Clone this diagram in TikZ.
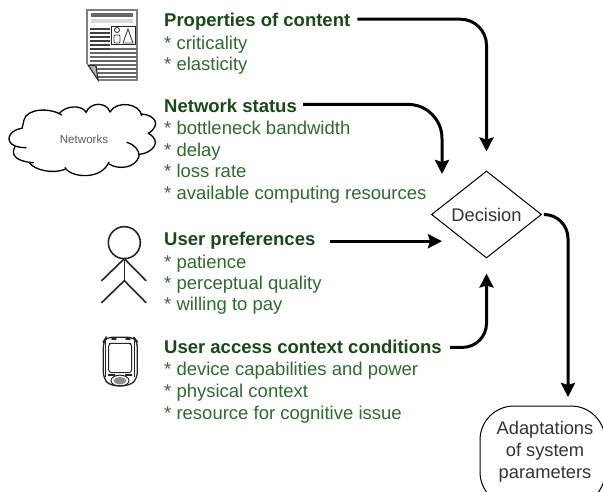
\documentclass[tikz,border=0pt]{standalone}
\usepackage{fontspec}
\setmainfont{Liberation Sans}
\usetikzlibrary{arrows.meta,shapes.geometric}
\definecolor{hd}{HTML}{174A17}
\definecolor{it}{HTML}{2F6B2F}
\definecolor{ink}{HTML}{333333}
\tikzset{
 x=1pt,y=-1pt,
 head/.style={anchor=base west,inner sep=0pt,yshift=-1pt,text=hd,font=\fontsize{18.5}{20}\selectfont\bfseries},
 item/.style={anchor=base west,inner sep=0pt,yshift=-1pt,text=it,font=\fontsize{18.5}{20}\selectfont},
 flow/.style={line width=3pt,black,-{Stealth[length=14pt,width=14pt,inset=2pt]},rounded corners=26pt},
 blk/.style={font=\fontsize{18.3}{22}\selectfont,text=ink},
 ol/.style={line width=1.3pt,black,line cap=round},
 fig/.style={line width=1.6pt,black!85,line cap=round},
}
\begin{document}
\begin{tikzpicture}
\useasboundingbox (0,0) rectangle (603,492);
\begin{scope}
\clip (0,0) rectangle (603,492);
% headings and lists
\node[head] (h1) at (164,26) {Properties of content};
\node[item] at (164,49) {* criticality};
\node[item] at (164,70) {* elasticity};
\node[head] (h2) at (164,112) {Network status};
\node[item] at (164,134) {* bottleneck bandwidth};
\node[item] at (164,156) {* delay};
\node[item] at (164,177) {* loss rate};
\node[item] at (164,199) {* available computing resources};
\node[head] (h3) at (164,245) {User preferences};
\node[item] at (164,267) {* patience};
\node[item] at (164,288) {* perceptual quality};
\node[item] at (164,309) {* willing to pay};
\node[head] (h4) at (164,352) {User access context conditions};
\node[item] at (164,374) {* device capabilities and power};
\node[item] at (164,396) {* physical context};
\node[item] at (164,418) {* resource for cognitive issue};
% decision and result
\node[diamond,draw=black,line width=1pt,minimum width=110pt,minimum height=87pt,inner sep=0pt,blk] (dec) at (486.5,214.5) {Decision};
\node[draw=black,line width=1pt,rounded corners=34pt,minimum width=125pt,minimum height=100pt,align=center,blk,inner sep=0pt] (ad) at (542.5,456) {\raisebox{0pt}[0pt][0pt]{\hspace{5pt}\parbox{120pt}{\centering\fontsize{18.3}{22}\selectfont Adaptations\\ of system\\ parameters}}};
\coordinate (netEnd) at (442,174);
\coordinate (prefEnd) at (442,241);
\coordinate (adIn) at (568,397);
% connectors
\draw[flow,shorten >=19pt] (h1.east) ++(7,-3) -| (dec.north);
\draw[flow,rounded corners=34pt] (h2.east) ++(6,-2) -| (netEnd);
\draw[flow] (h3.east) ++(14,0) coordinate (h3out) -- (h3out -| prefEnd);
\draw[flow,shorten >=15pt,rounded corners=24pt] (h4.east) ++(8,1) -| (dec.south);
\draw[flow,shorten <=4pt,rounded corners=24pt] (dec.east) -| (adIn);
% document icon
\fill[white] (87,10) -- (137,10) -- (137,80) -- (98,80) -- (87,64) -- cycle;
\draw[gray,line width=1.4pt] (87,64) -- (87,10) -- (137,10) -- (137,80) -- (98,80);
\foreach \yy in {29,33,37,41,45,49,53,57,61} \draw[black!75,line width=1.9pt] (90,\yy) -- (110,\yy);
\foreach \yy in {49,53,57,61,65,69,73,77} \draw[black!60,line width=2.4pt] (\ifnum\yy<52 110\else 90\fi,\yy) -- (137,\yy);
\fill[black!60] (91,13) rectangle (133,17);
\fill[black!15] (91,19) rectangle (133,23);
\fill[white] (111,26) rectangle (136,45);
\draw[black!85,line width=1pt] (111.5,26.5) rectangle (135.5,45);
\draw[black!75,line width=.9pt] (117,30) circle (2.5);
\draw[black!75,line width=.9pt,rounded corners=1pt] (114,35) rectangle (120,43);
\draw[black!75,line width=.9pt] (123,43) -- (128,29) -- (133,43) -- cycle;
\fill[white] (87,64) -- (98,81) -- (87,81) -- cycle;
\fill[black!30] (88,65) -- (97,66) -- (98,80) -- cycle;
\draw[black!85,line width=1pt] (88,65) -- (96,66) -- (98,80) -- cycle;
% cloud
\begin{scope}[shift={(0,100)},x=0.3333pt,y=-0.3333pt]
\draw[ol] (185,45) .. controls (150,22) and (80,25) .. (72,60) .. controls (70,70) and (68,78) .. (66,85);
\draw[ol] (66,85) .. controls (35,88) and (15,115) .. (35,132) .. controls (45,140) and (60,143) .. (78,143);
\draw[ol] (45,140) .. controls (30,165) and (50,185) .. (100,188);
\draw[ol] (88,188) .. controls (105,212) and (160,222) .. (195,208);
\draw[ol] (195,203) .. controls (215,235) and (305,240) .. (327,186);
\draw[ol] (327,192) .. controls (355,210) and (405,205) .. (417,170) .. controls (420,150) and (400,132) .. (381,127);
\draw[ol] (418,163) .. controls (455,160) and (490,125) .. (445,100);
\draw[ol] (445,100) .. controls (485,75) and (465,45) .. (425,42);
\draw[ol] (425,47) .. controls (420,10) and (350,0) .. (330,36);
\draw[ol] (330,36) .. controls (320,5) and (270,5) .. (258,38);
\draw[ol] (258,36) .. controls (245,15) and (200,15) .. (178,40);
\end{scope}
\node[inner sep=0pt,text=black!65,font=\fontsize{11.6}{13}\selectfont] (netlabel) at (84,139) {Networks};
% stick figure
\begin{scope}[shift={(80,210)},x=0.3333pt,y=-0.3333pt]
\draw[fig] (133,98) circle (16pt);
\draw[fig] (133,146) -- (133,212);
\draw[fig] (65,212) -- (133,146) -- (198,212);
\draw[fig] (65,278) -- (133,212) -- (198,278);
\end{scope}
% handheld
\begin{scope}[shift={(80,210)},x=0.3333pt,y=-0.3333pt]
\draw[fig,line width=1.3pt,rounded corners=6pt] (70,395) -- (78,382) -- (162,382) -- (172,395) -- (172,505) -- (150,527) -- (90,527) -- (70,505) -- cycle;
\draw[fig,line width=1pt] (76,392) -- (76,500);
\draw[fig,line width=1pt] (165,392) -- (165,500);
\draw[fig,line width=1pt,rounded corners=3pt] (86,400) rectangle (155,488);
\draw[fig,line width=1pt] (88,402) -- (153,402);
\draw[fig,line width=1.8pt] (96,386) -- (108,386);
\draw[fig,line width=1.8pt] (138,386) -- (150,386);
\draw[fig,line width=1.8pt] (86,495) -- (104,495);
\draw[fig,line width=1.8pt] (137,495) -- (155,495);
\fill[black!45] (120,512) ellipse (6.5pt and 3.5pt);
\draw[fig,line width=1pt] (120,512) ellipse (9pt and 5.5pt);
\end{scope}
\end{scope}
\end{tikzpicture}
\end{document}
